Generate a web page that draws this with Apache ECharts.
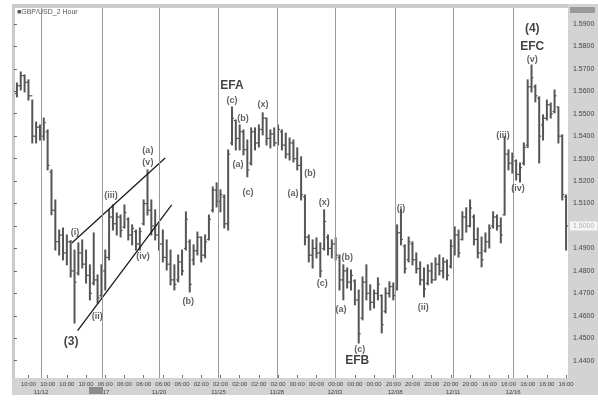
<!DOCTYPE html>
<html><head><meta charset="utf-8">
<script src="https://cdn.jsdelivr.net/npm/echarts@6/dist/echarts.min.js"></script>
<style>html,body{margin:0;padding:0;background:#fff}#c{width:598px;height:400px}</style>
</head><body><div id="c"></div>
<script>
// ---- data (2-hour bars, GBP/USD) ----
const openP = [1.5590,1.5625,1.5670,1.5640,1.5580,1.5400,1.5440,1.5400,1.5420,1.5240,
1.5070,1.4930,1.4960,1.4880,1.4930,1.4800,1.4790,1.4880,1.4830,1.4780,
1.4745,1.4760,1.4690,1.4800,1.4860,1.5040,1.5010,1.5040,1.4995,1.5030,
1.4960,1.4975,1.4920,1.5010,1.5100,1.5070,1.5000,1.4960,1.4920,1.4860,
1.4830,1.4760,1.4760,1.4840,1.4900,1.4930,1.4850,1.4890,1.4950,1.4870,
1.4940,1.5070,1.5160,1.5110,1.5130,1.5010,1.5370,1.5470,1.5390,1.5420,
1.5340,1.5280,1.5420,1.5370,1.5430,1.5480,1.5390,1.5410,1.5370,1.5420,
1.5360,1.5320,1.5370,1.5300,1.5270,1.5130,1.4950,1.4870,1.4900,1.4880,
1.4900,1.4950,1.4900,1.4920,1.4860,1.4760,1.4800,1.4750,1.4755,1.4670,
1.4590,1.4750,1.4700,1.4660,1.4700,1.4690,1.4620,1.4700,1.4730,1.4720,
1.4970,1.4910,1.4850,1.4920,1.4850,1.4810,1.4760,1.4745,1.4800,1.4760,
1.4830,1.4800,1.4840,1.4820,1.4910,1.4960,1.4940,1.5040,1.5000,1.5040,
1.4940,1.4880,1.4890,1.4930,1.5000,1.5040,1.5000,1.5050,1.5320,1.5280,
1.5290,1.5230,1.5280,1.5360,1.5620,1.5620,1.5570,1.5450,1.5480,1.5540,
1.5510,1.5530,1.5400,1.5130];
const highP = [1.5637,1.5686,1.5673,1.5651,1.5561,1.5463,1.5450,1.5481,1.5428,1.5250,
1.5116,1.4982,1.4991,1.4960,1.4935,1.4893,1.4925,1.4938,1.4893,1.4827,
1.4969,1.4782,1.4827,1.4893,1.5072,1.5094,1.5058,1.5049,1.5094,1.5036,
1.5005,1.4982,1.4991,1.5116,1.5250,1.5116,1.5072,1.5005,1.4982,1.4938,
1.4893,1.4827,1.4871,1.4893,1.5063,1.4938,1.4916,1.4973,1.4951,1.4960,
1.5049,1.5174,1.5192,1.5161,1.5138,1.5339,1.5530,1.5472,1.5450,1.5428,
1.5383,1.5437,1.5437,1.5450,1.5504,1.5481,1.5428,1.5437,1.5450,1.5428,
1.5414,1.5392,1.5383,1.5348,1.5308,1.5138,1.4960,1.4938,1.4947,1.4925,
1.5072,1.4960,1.4938,1.4947,1.4871,1.4827,1.4813,1.4804,1.4760,1.4715,
1.4773,1.4827,1.4738,1.4715,1.4769,1.4693,1.4724,1.4751,1.4746,1.5005,
1.5072,1.4916,1.4951,1.4929,1.4880,1.4840,1.4813,1.4827,1.4835,1.4858,
1.4871,1.4858,1.4849,1.4938,1.4996,1.4982,1.5063,1.5081,1.5116,1.5049,
1.4991,1.4951,1.4969,1.5005,1.5063,1.5049,1.5036,1.5397,1.5339,1.5325,
1.5294,1.5281,1.5370,1.5651,1.5717,1.5628,1.5575,1.5495,1.5561,1.5548,
1.5606,1.5530,1.5406,1.5138];
const lowP = [1.5575,1.5606,1.5597,1.5561,1.5370,1.5370,1.5383,1.5383,1.5250,1.5050,
1.4893,1.4871,1.4849,1.4827,1.4773,1.4568,1.4782,1.4813,1.4746,1.4671,
1.4738,1.4657,1.4684,1.4715,1.4849,1.4982,1.4960,1.4951,1.4991,1.4938,
1.4916,1.4893,1.4893,1.5005,1.5049,1.4960,1.4938,1.4893,1.4840,1.4804,
1.4738,1.4715,1.4751,1.4782,1.4893,1.4706,1.4827,1.4871,1.4840,1.4858,
1.4938,1.5063,1.5085,1.5063,1.4991,1.4982,1.5361,1.5339,1.5339,1.5317,
1.5219,1.5272,1.5339,1.5352,1.5406,1.5361,1.5348,1.5357,1.5361,1.5339,
1.5303,1.5294,1.5285,1.5250,1.5116,1.4916,1.4840,1.4813,1.4858,1.4773,
1.4893,1.4871,1.4858,1.4849,1.4715,1.4671,1.4724,1.4715,1.4649,1.4479,
1.4582,1.4671,1.4626,1.4635,1.4671,1.4524,1.4613,1.4684,1.4671,1.4715,
1.4916,1.4791,1.4840,1.4827,1.4791,1.4738,1.4684,1.4738,1.4746,1.4760,
1.4782,1.4769,1.4760,1.4813,1.4871,1.4862,1.4938,1.4973,1.4996,1.4916,
1.4858,1.4818,1.4884,1.4902,1.4991,1.4982,1.4925,1.5049,1.5250,1.5236,
1.5205,1.5196,1.5272,1.5350,1.5597,1.5553,1.5281,1.5383,1.5472,1.5481,
1.5504,1.5370,1.5116,1.4893];
const closeP = [1.5625,1.5670,1.5640,1.5580,1.5400,1.5440,1.5400,1.5460,1.5270,1.5070,
1.4930,1.4960,1.4880,1.4930,1.4800,1.4750,1.4880,1.4830,1.4780,1.4700,
1.4760,1.4680,1.4800,1.4860,1.5040,1.5010,1.5040,1.4980,1.5060,1.4960,
1.4990,1.4920,1.4975,1.5100,1.5070,1.5000,1.4960,1.4920,1.4860,1.4830,
1.4760,1.4740,1.4840,1.4800,1.5030,1.4740,1.4890,1.4950,1.4870,1.4930,
1.5030,1.5160,1.5110,1.5140,1.5010,1.5320,1.5480,1.5390,1.5420,1.5340,
1.5250,1.5420,1.5370,1.5430,1.5480,1.5390,1.5410,1.5370,1.5430,1.5360,
1.5320,1.5370,1.5300,1.5270,1.5140,1.4950,1.4870,1.4900,1.4880,1.4800,
1.5020,1.4900,1.4920,1.4870,1.4760,1.4800,1.4750,1.4780,1.4670,1.4520,
1.4750,1.4700,1.4660,1.4700,1.4740,1.4560,1.4700,1.4730,1.4690,1.4970,
1.4940,1.4810,1.4930,1.4850,1.4810,1.4760,1.4720,1.4800,1.4760,1.4830,
1.4800,1.4840,1.4780,1.4910,1.4960,1.4880,1.5040,1.5000,1.5080,1.4940,
1.4880,1.4850,1.4930,1.4990,1.5040,1.5000,1.4960,1.5320,1.5280,1.5310,
1.5230,1.5260,1.5350,1.5620,1.5660,1.5580,1.5400,1.5480,1.5540,1.5500,
1.5580,1.5400,1.5140,1.5000];

const tickBars = [3,8,13,18,23,28,33,38,43,48,53,58,63,68,73,78,83,88,93,98,103,108,113,118,123,128,133,138,143];
const tickLabels = ['10:00','10:00','10:00','10:00','06:00','06:00','06:00','06:00','06:00',
  '02:00','02:00','02:00','02:00','02:00','00:00','00:00','00:00','00:00','00:00',
  '20:00','20:00','20:00','20:00','20:00','16:00','16:00','16:00','16:00','16:00'];
const dayStarts = [6.3, 22.2, 37.0, 52.5, 67.7, 82.8, 98.5, 113.6, 129.2];
const dayLabels = ['11/12','11/17','11/20','11/25','11/28','12/03','12/08','12/11','12/16'];
const lastPrice = 1.5000;

const waveText  = ['(3)','(i)','(ii)','(iii)','(iv)','(a)','(v)','(b)',
  'EFA','(c)','(b)','(x)','(a)','(c)','(a)','(b)','(x)','(c)','(b)','(a)','(c)','EFB',
  '(i)','(ii)','(iii)','(iv)','(4)','EFC','(v)'];
const waveBar   = [14.1,15.1,20.9,24.5,32.8,34.1,34.1,44.6,
  56.0,56.0,58.9,64.1,57.6,60.2,71.9,76.3,80.0,79.5,86.0,84.4,89.3,88.6,
  100.0,105.8,126.6,130.5,134.2,134.2,134.2];
const wavePrice = [1.4483,1.4973,1.4599,1.5138,1.4862,1.5336,1.5281,1.4662,
  1.5624,1.5561,1.5477,1.5539,1.5272,1.5147,1.5143,1.5236,1.5103,1.4746,1.4858,1.4626,1.4452,1.4399,
  1.5076,1.4639,1.5401,1.5169,1.5878,1.5798,1.5740];
const channelUpper = [[14.3, 1.4924], [38.6, 1.5303]];
const channelLower = [[15.8, 1.4534], [40.3, 1.5094]];

// ---- chart ----
const FONT = 'Liberation Sans, Arial, sans-serif';
const bars = openP.map((o, i) => [i, o, closeP[i], lowP[i], highP[i]]);
const bigWaves = ['(3)', '(4)', 'EFA', 'EFB', 'EFC'];
const annoData = waveText.map((t, k) => ({
  value: [waveBar[k], wavePrice[k]], name: t,
  label: bigWaves.includes(t) ? {fontSize: 12, fontWeight: 'bold', color: '#111'} : {}
}));

const chart = echarts.init(document.getElementById('c'), null, {renderer: 'canvas'});
chart.setOption({
  animation: false,
  backgroundColor: '#fff',
  title: {text: '\u25A0GBP/USD_2 Hour', left: 17, top: 9, padding: 0,
    textStyle: {fontSize: 7, color: '#555', fontWeight: 'normal', fontFamily: FONT}},
  grid: {left: 15, right: 30, top: 8, bottom: 22, containLabel: false, outerBoundsMode: 'none'},
  graphic: [
    {type: 'rect', z: -10, shape: {x: 12, y: 4, width: 586, height: 4}, style: {fill: '#cbcbcb'}},
    {type: 'rect', z: -10, shape: {x: 12, y: 4, width: 3, height: 391}, style: {fill: '#cbcbcb'}},
    {type: 'rect', z: -10, shape: {x: 568, y: 4, width: 30, height: 391}, style: {fill: '#d3d3d3'}},
    {type: 'rect', z: -10, shape: {x: 12, y: 378, width: 586, height: 17}, style: {fill: '#d3d3d3'}},
    {type: 'rect', z: -9, shape: {x: 570, y: 7, width: 25, height: 6}, style: {fill: '#9a9a9a'}},
    {type: 'rect', z: 100, shape: {x: 89, y: 387, width: 14, height: 7}, style: {fill: '#8c8c8c'}}
  ],
  xAxis: [
    {type: 'value', min: -0.5, max: 143.5, position: 'bottom',
      axisLine: {show: false}, splitLine: {show: false},
      axisTick: {show: true, inside: true, length: 3, customValues: tickBars, lineStyle: {color: '#777'}},
      axisLabel: {customValues: tickBars, fontSize: 6, color: '#444', margin: 3, fontFamily: FONT,
        formatter: v => tickLabels[tickBars.indexOf(v)] || ''}},
    {type: 'value', min: -0.5, max: 143.5, position: 'bottom',
      axisLine: {show: false}, splitLine: {show: false}, axisTick: {show: false},
      axisLabel: {customValues: dayStarts, fontSize: 6, color: '#444', margin: 11, fontFamily: FONT,
        formatter: v => dayLabels[dayStarts.indexOf(v)] || ''}}
  ],
  yAxis: {type: 'value', position: 'right', min: 1.4323, max: 1.5971,
    minInterval: 0.01, maxInterval: 0.01,
    axisLine: {show: false}, splitLine: {show: false},
    axisTick: {show: true, inside: true, length: 3, lineStyle: {color: '#666'}},
    axisLabel: {fontSize: 7, color: '#444', margin: 2, fontFamily: FONT,
      showMinLabel: false, showMaxLabel: false,
      formatter: v => Math.abs(v - lastPrice) < 1e-6 ? '{hl|' + v.toFixed(4) + '}' : '{n|' + v.toFixed(4) + '}',
      rich: {
        n: {fontSize: 7, color: '#444', fontFamily: FONT, padding: [0, 3, 0, 3]},
        hl: {fontSize: 7, color: '#b0b0b0', fontFamily: FONT, backgroundColor: '#f6f6f6', padding: [1, 3, 1, 3]}
      }}},
  series: [
    {type: 'custom', name: 'GBP/USD', data: bars, encode: {x: 0, y: [1, 2, 3, 4]}, z: 3,
      renderItem: function (params, api) {
        const x = api.value(0);
        const o = api.coord([x, api.value(1)]);
        const c = api.coord([x, api.value(2)]);
        const l = api.coord([x, api.value(3)]);
        const h = api.coord([x, api.value(4)]);
        const st = {stroke: '#555', lineWidth: 2};
        return {type: 'group', children: [
          {type: 'line', shape: {x1: l[0], y1: l[1] + 0.5, x2: h[0], y2: h[1] - 0.5}, style: st},
          {type: 'line', shape: {x1: o[0] - 2, y1: o[1], x2: o[0], y2: o[1]}, style: {stroke: '#555', lineWidth: 1.2}},
          {type: 'line', shape: {x1: c[0], y1: c[1], x2: c[0] + 2, y2: c[1]}, style: {stroke: '#555', lineWidth: 1.2}}
        ]};
      }},
    {type: 'line', data: channelUpper, symbol: 'none', z: 4,
      lineStyle: {color: '#1a1a1a', width: 1.3},
      markLine: {silent: true, symbol: 'none', label: {show: false},
        lineStyle: {color: '#9a9a9a', width: 1, type: 'solid'},
        data: dayStarts.map(d => ({xAxis: d}))}},
    {type: 'line', data: channelLower, symbol: 'none', z: 4,
      lineStyle: {color: '#1a1a1a', width: 1.3}},
    {type: 'scatter', data: annoData, symbolSize: 0, silent: true, z: 6,
      itemStyle: {color: 'rgba(0,0,0,0)'},
      label: {show: true, position: 'inside', formatter: '{b}', fontSize: 9, fontWeight: 'bold',
        color: '#3a3a3a', fontFamily: FONT}}
  ]
});
</script></body></html>
